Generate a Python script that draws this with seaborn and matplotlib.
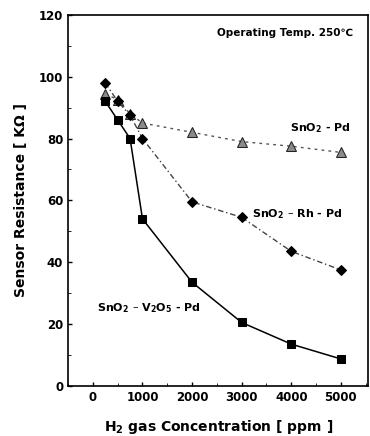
import numpy as np
import pandas as pd
import seaborn as sns
from matplotlib import pyplot as plt

sns.set_style("ticks")
plt.rcParams['font.family'] = ['DejaVu Sans']
plt.rcParams['font.weight'] = 'bold'
plt.rcParams['text.color'] = 'black'
plt.rcParams['axes.labelcolor'] = 'black'
plt.rcParams['axes.edgecolor'] = 'black'
plt.rcParams['xtick.color'] = 'black'
plt.rcParams['ytick.color'] = 'black'

# H2 concentration (ppm)
conc = [250, 500, 750, 1000, 2000, 3000, 4000, 5000]
# sensor resistance (kOhm)
pd_res = [94.5, 92.5, 88, 85, 82, 79, 77.5, 75.5]
rh_res = [98, 92, 87.5, 80, 59.5, 54.5, 43.5, 37.5]
v2o5_res = [92, 86, 80, 54, 33.5, 20.5, 13.5, 8.7]

df = pd.DataFrame({"conc": conc, "pd": pd_res, "rh": rh_res, "v2o5": v2o5_res})

fig = plt.figure(figsize=(3.7, 4.36), dpi=100)
ax = fig.add_axes([0.184, 0.115, 0.811, 0.851])

sns.lineplot(data=df, x="conc", y="pd", ax=ax, color="#555555", lw=1,
             linestyle=(0, (2, 3)), marker="^", markersize=7,
             markerfacecolor="#8a8a8a", markeredgecolor="#222222")
sns.lineplot(data=df, x="conc", y="rh", ax=ax, color="#444444", lw=1,
             linestyle=(0, (4, 2, 1, 2)), marker="D", markersize=5,
             markerfacecolor="black", markeredgecolor="black")
sns.lineplot(data=df, x="conc", y="v2o5", ax=ax, color="black", lw=1.1,
             marker="s", markersize=5.5,
             markerfacecolor="black", markeredgecolor="black")

ax.set_xlim(-500, 5550)
ax.set_ylim(0, 120)
ax.set_xticks(range(0, 5001, 1000))
ax.set_xticks(range(-500, 5501, 500), minor=True)
ax.set_yticks(range(0, 121, 20))
ax.set_yticks(range(0, 121, 10), minor=True)
ax.tick_params(direction="in", length=3, width=1, labelsize=8.5)
ax.tick_params(which="minor", direction="in", length=2)
for lab in ax.get_xticklabels() + ax.get_yticklabels():
    lab.set_fontweight("bold")
for s in ax.spines.values():
    s.set_linewidth(1.2)

ax.set_xlabel("H$_\\mathbf{2}$ gas Concentration [ ppm ]", fontsize=10, fontweight="bold", labelpad=10)
ax.set_ylabel("Sensor Resistance [ K\u03a9 ]", fontsize=10, fontweight="bold", labelpad=8)

ax.text(5250, 114, "Operating Temp. 250\u2103", ha="right", va="center", fontsize=7.5, fontweight="bold")
ax.text(5200, 83.5, "SnO$_\\mathbf{2}$ - Pd", ha="right", va="center", fontsize=8, fontweight="bold")
ax.text(3200, 55.5, "SnO$_\\mathbf{2}$ \u2013 Rh - Pd", ha="left", va="center", fontsize=8, fontweight="bold")
ax.text(80, 25, "SnO$_\\mathbf{2}$ \u2013 V$_\\mathbf{2}$O$_\\mathbf{5}$ - Pd", ha="left", va="center", fontsize=8, fontweight="bold")

plt.savefig("out.png", dpi=100)
